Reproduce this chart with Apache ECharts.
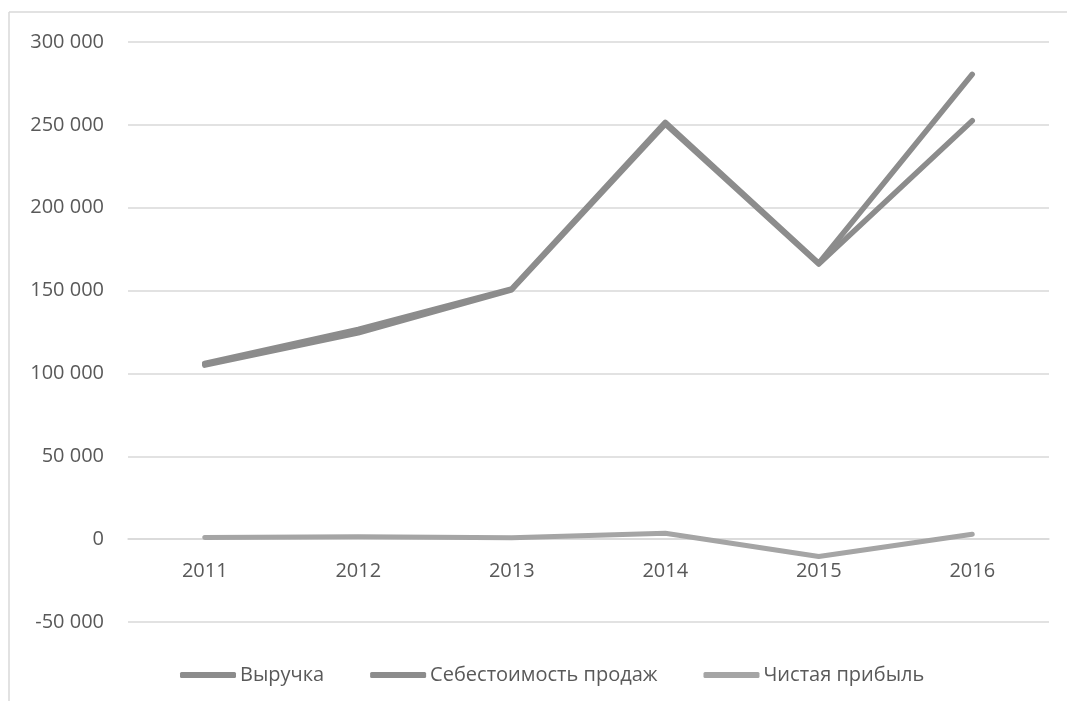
<!DOCTYPE html>
<html>
<head>
<meta charset="utf-8">
<script src="https://cdn.jsdelivr.net/npm/echarts@6/dist/echarts.min.js"></script>
<style>html,body{margin:0;padding:0;background:#fff}#c{width:1067px;height:701px}</style>
</head>
<body>
<div id="c"></div>
<script>
const years = ['2011', '2012', '2013', '2014', '2015', '2016'];
const revenue = [106000, 126500, 151000, 251500, 166500, 280500];
const cost = [105000, 124500, 150500, 250500, 166000, 252500];
const profit = [1000, 1500, 800, 3500, -10500, 3000];
const seriesNames = ['Выручка', 'Себестоимость продаж', 'Чистая прибыль'];
const yTicks = { min: -50000, max: 300000, interval: 50000 };

const font = '"Open Sans", "Noto Sans", sans-serif';
const chart = echarts.init(document.getElementById('c'), null, { renderer: 'canvas' });

function fmt(v) {
  const s = Math.abs(v).toString().replace(/\B(?=(\d{3})+(?!\d))/g, ' ');
  return (v < 0 ? '-' : '') + s;
}

function lineSeries(name, data, color, width) {
  return {
    name: name, type: 'line', data: data, showSymbol: false, symbol: 'none',
    lineStyle: { color: color, width: width, cap: 'round', join: 'round' },
    itemStyle: { color: color },
    emphasis: { disabled: true }, animation: false
  };
}

const gridTop = 42, gridBottom = 79, H = 701;
const plotH = H - gridTop - gridBottom;
const zeroOffset = plotH * (0 - yTicks.min) / (yTicks.max - yTicks.min);

chart.setOption({
  animation: false,
  backgroundColor: '#ffffff',
  graphic: [
    { type: 'line', shape: { x1: 9, y1: 12, x2: 1067, y2: 12 }, style: { stroke: '#d9d9d9', lineWidth: 1.5 } },
    { type: 'line', shape: { x1: 9, y1: 12, x2: 9, y2: 701 }, style: { stroke: '#d9d9d9', lineWidth: 1.5 } }
  ],
  grid: { left: 128, right: 18, top: gridTop, bottom: gridBottom, containLabel: false },
  legend: {
    data: seriesNames,
    bottom: 11,
    left: 175,
    icon: 'roundRect',
    itemWidth: 56,
    itemHeight: 6,
    itemGap: 46,
    textStyle: { fontFamily: font, fontSize: 20, color: '#595959', padding: [0, 0, 0, -1] }
  },
  xAxis: {
    type: 'category',
    data: years,
    boundaryGap: true,
    offset: -zeroOffset,
    axisLine: { onZero: false, lineStyle: { color: '#d9d9d9', width: 1.5 } },
    axisTick: { show: false },
    axisLabel: { fontFamily: font, fontSize: 20, color: '#595959', margin: 22 },
    splitLine: { show: false }
  },
  yAxis: {
    type: 'value',
    min: yTicks.min, max: yTicks.max, interval: yTicks.interval,
    axisLine: { show: false },
    axisTick: { show: false },
    axisLabel: { fontFamily: font, fontSize: 20, color: '#595959', margin: 24, formatter: fmt },
    splitLine: { lineStyle: { color: '#d9d9d9', width: 1.5 } }
  },
  series: [
    lineSeries(seriesNames[0], revenue, '#8c8c8c', 5.5),
    lineSeries(seriesNames[1], cost, '#8c8c8c', 5.5),
    lineSeries(seriesNames[2], profit, '#a5a5a5', 5)
  ]
});
</script>
</body>
</html>
